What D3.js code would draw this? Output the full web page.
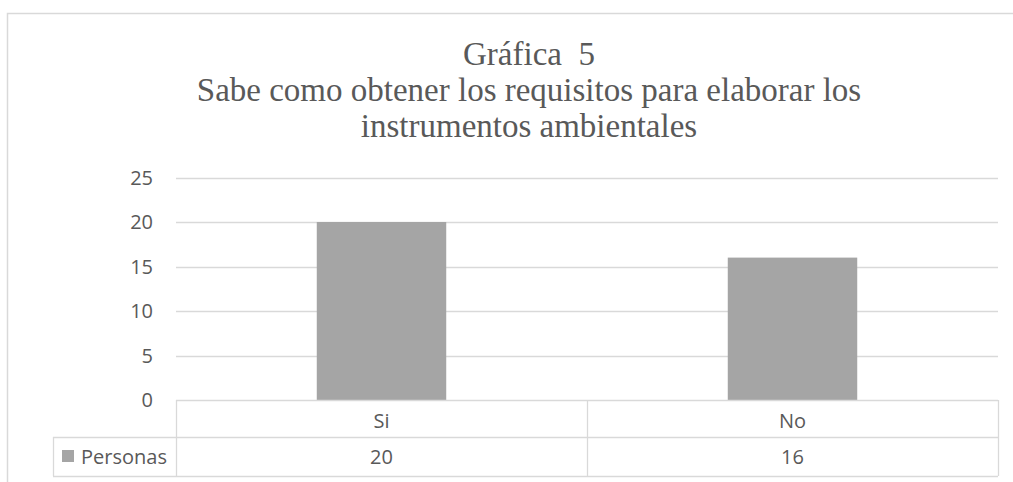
<!DOCTYPE html>
<html>
<meta charset="utf-8">
<head>
<style>
body { margin: 0; background: #fff; }
text { fill: #595959; }
.title text { font-family: "Liberation Serif", "Times New Roman", serif; font-size: 33px; white-space: pre; }
.lbl { font-family: "Open Sans", "Noto Sans", sans-serif; font-size: 20px; }
</style>
</head>
<body>
<svg width="1013" height="482"></svg>
<script src="https://d3js.org/d3.v7.min.js"></script>
<script>

var categories = ["Si", "No"];
var values = [20, 16];
var seriesName = "Personas";
var yTicks = [0, 5, 10, 15, 20, 25];
var titleLines = ["Gráfica\u00a0\u00a05", "Sabe como obtener los requisitos para elaborar los", "instrumentos ambientales"];

var svg = d3.select("svg");

// chart frame (clipped on right and bottom like the source image)
svg.append("rect")
    .attr("x", 7.5).attr("y", 13.5)
    .attr("width", 1100).attr("height", 600)
    .attr("fill", "none").attr("stroke", "#d9d9d9").attr("stroke-width", 1.5);

var title = svg.append("g").attr("class", "title");
title.selectAll("text")
    .data(titleLines)
    .enter().append("text")
      .attr("x", 529)
      .attr("y", function(d, i) { return 65 + i * 36; })
      .attr("text-anchor", "middle")
      .text(function(d) { return d; });

var left = 176, right = 998, top0 = 400;

var x = d3.scaleBand().domain(categories).range([left, right]).padding(0);
var y = d3.scaleLinear().domain([0, 25]).range([top0, 177.5]);

var grid = "#d9d9d9";

// gridlines
svg.append("g").selectAll("line")
    .data(yTicks.filter(function(d) { return d > 0; }))
    .enter().append("line")
      .attr("x1", left).attr("x2", right)
      .attr("y1", function(d) { return Math.round(y(d)) + 0.5; })
      .attr("y2", function(d) { return Math.round(y(d)) + 0.5; })
      .attr("stroke", grid).attr("stroke-width", 1.3);

// y labels
svg.append("g").selectAll("text")
    .data(yTicks)
    .enter().append("text")
      .attr("class", "lbl")
      .attr("x", 153)
      .attr("y", function(d) { return y(d) + 7; })
      .attr("text-anchor", "end")
      .text(function(d) { return d; });

// bars
var barW = x.bandwidth() * 0.315;
svg.append("g").selectAll("rect")
    .data(values)
    .enter().append("rect")
      .attr("x", function(d, i) { return x(categories[i]) + x.bandwidth() / 2 - barW / 2; })
      .attr("width", barW)
      .attr("y", function(d) { return y(d); })
      .attr("height", function(d) { return y(0) - y(d); })
      .attr("fill", "#a5a5a5");

// data table
var row1 = 437, row2 = 476, tableLeft = 53;
var t = svg.append("g").attr("stroke", grid).attr("stroke-width", 1.3).attr("fill", "none");
t.append("line").attr("x1", left).attr("x2", right).attr("y1", top0 + 0.5).attr("y2", top0 + 0.5);
t.append("line").attr("x1", tableLeft).attr("x2", right).attr("y1", row1 + 0.5).attr("y2", row1 + 0.5);
t.append("line").attr("x1", tableLeft).attr("x2", right).attr("y1", row2 + 0.5).attr("y2", row2 + 0.5);
t.append("line").attr("x1", tableLeft + 0.5).attr("x2", tableLeft + 0.5).attr("y1", row1).attr("y2", row2);
t.selectAll(".v")
    .data(categories.map(function(c) { return x(c); }).concat([right]))
    .enter().append("line")
      .attr("x1", function(d) { return Math.round(d) + 0.5; })
      .attr("x2", function(d) { return Math.round(d) + 0.5; })
      .attr("y1", top0).attr("y2", row2);

svg.append("g").selectAll("text")
    .data(categories)
    .enter().append("text")
      .attr("class", "lbl")
      .attr("x", function(d) { return x(d) + x.bandwidth() / 2; })
      .attr("y", 428)
      .attr("text-anchor", "middle")
      .text(function(d) { return d; });

svg.append("g").selectAll("text")
    .data(values)
    .enter().append("text")
      .attr("class", "lbl")
      .attr("x", function(d, i) { return x(categories[i]) + x.bandwidth() / 2; })
      .attr("y", 464)
      .attr("text-anchor", "middle")
      .text(function(d) { return d; });

// legend key
svg.append("rect")
    .attr("x", 62).attr("y", 450).attr("width", 12).attr("height", 12)
    .attr("fill", "#a5a5a5");
svg.append("text")
    .attr("class", "lbl")
    .attr("x", 81).attr("y", 464)
    .text(seriesName);

</script>
</body>
</html>
